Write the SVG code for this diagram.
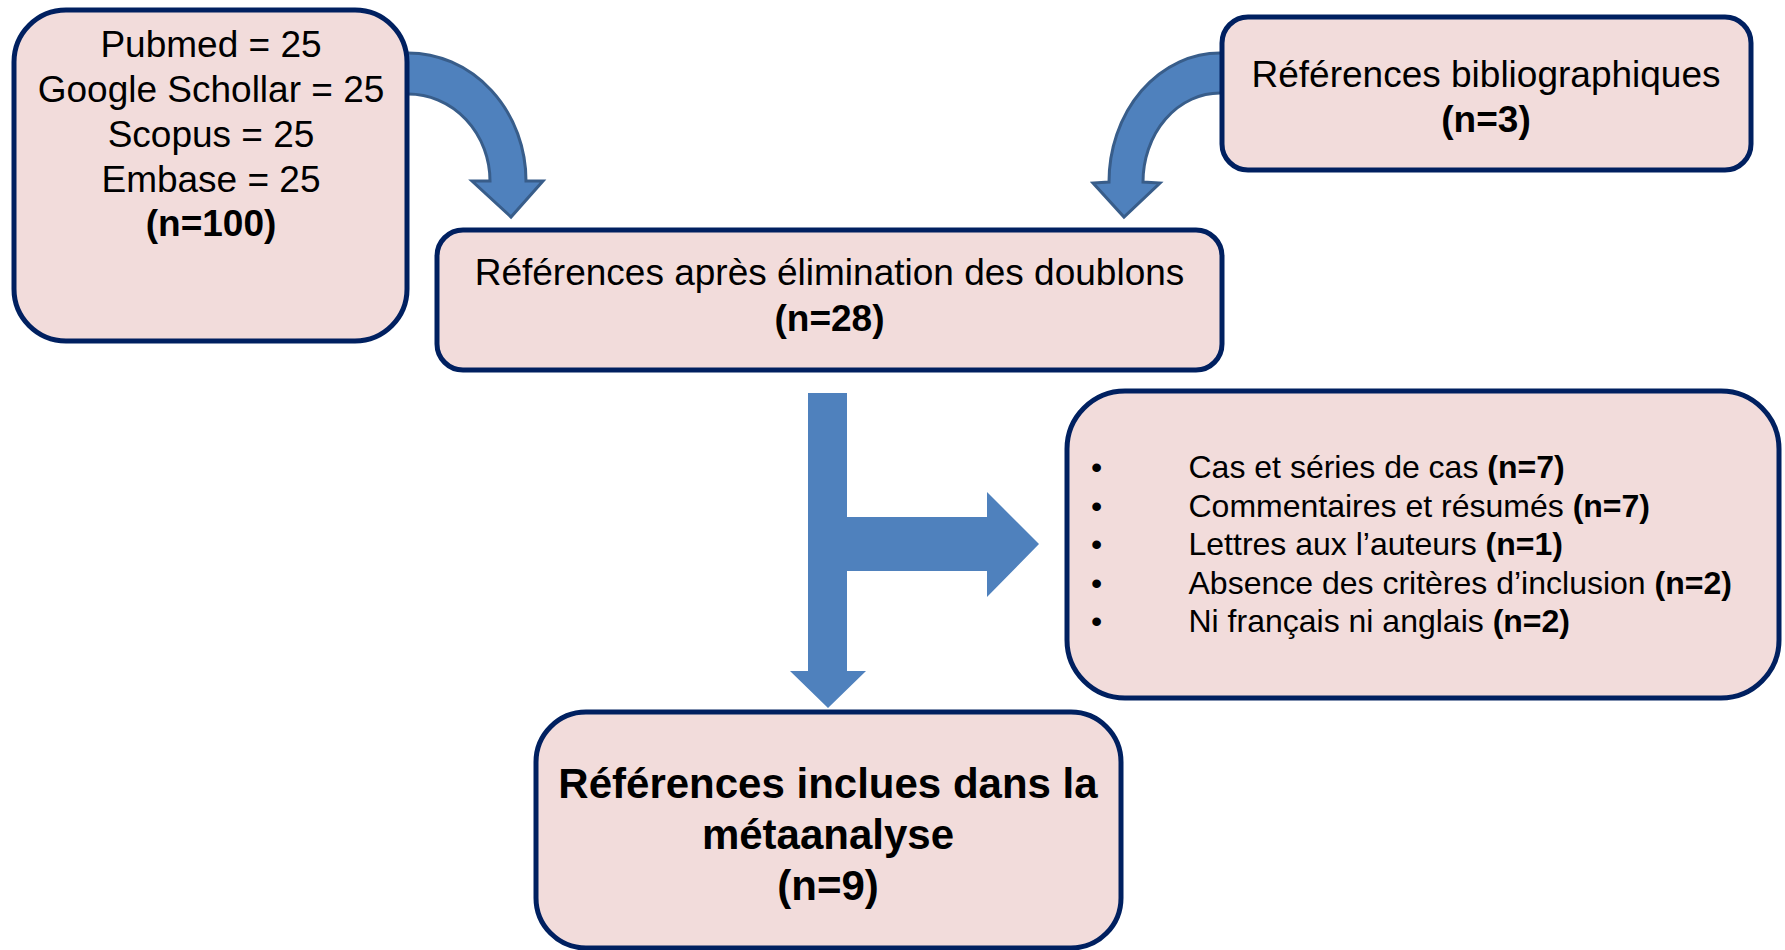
<svg xmlns="http://www.w3.org/2000/svg" width="1785" height="950" viewBox="0 0 1785 950">
<style>
.box{fill:#f2dcdb;stroke:#002060;stroke-width:5}
.t{font-family:"Liberation Sans",Arial,sans-serif;fill:#000}
.c{text-anchor:middle}
.b{font-weight:bold}
.curved{fill:#4f81bd;stroke:#385d8a;stroke-width:3;stroke-linejoin:miter}
.block{fill:#4f81bd}
</style>
<rect width="1785" height="950" fill="#ffffff"/>
<g id="connectors">
<path class="curved" d="M 404,53 L 408,53 A 118,128 0 0 1 526,181 L 543,181 L 511,217 L 472,181 L 490,181 A 82,87 0 0 0 408,94 L 404,94 Z"/>
<path class="curved" d="M 1226,53 L 1220,53 A 111,129 0 0 0 1109,182 L 1093,183 L 1124,217 L 1160,183 L 1143,182 A 77,89 0 0 1 1220,93 L 1226,93 Z"/>
<path class="block" d="M 808,393 L 847,393 L 847,517 L 987,517 L 987,492 L 1039,544 L 987,597 L 987,571 L 847,571 L 847,671 L 866,671 L 828,708 L 790,671 L 808,671 Z"/>
</g>
<g id="node-sources">
<rect class="box" x="14" y="10" width="393" height="331" rx="52" ry="52"/>
<text class="t c" font-size="37" x="211" y="57">Pubmed = 25</text>
<text class="t c" font-size="37" x="211" y="102">Google Schollar = 25</text>
<text class="t c" font-size="37" x="211" y="147">Scopus = 25</text>
<text class="t c" font-size="37" x="211" y="192">Embase = 25</text>
<text class="t c b" font-size="37" x="211" y="236">(n=100)</text>
</g>
<g id="node-biblio">
<rect class="box" x="1222" y="17" width="529" height="153" rx="26" ry="26"/>
<text class="t c" font-size="37" x="1486" y="87">Références bibliographiques</text>
<text class="t c b" font-size="37" x="1486" y="132">(n=3)</text>
</g>
<g id="node-doublons">
<rect class="box" x="437" y="230" width="785" height="140" rx="26" ry="26"/>
<text class="t c" font-size="37" x="829.5" y="285">Références après élimination des doublons</text>
<text class="t c b" font-size="37" x="829.5" y="331">(n=28)</text>
</g>
<g id="node-exclusions">
<rect class="box" x="1067" y="391" width="712" height="307" rx="58" ry="58"/>
<text class="t" font-size="32" x="1091" y="478">•</text>
<text class="t" font-size="32" x="1091" y="516.5">•</text>
<text class="t" font-size="32" x="1091" y="555">•</text>
<text class="t" font-size="32" x="1091" y="593.5">•</text>
<text class="t" font-size="32" x="1091" y="632">•</text>
<text class="t" font-size="32" x="1188.5" y="478">Cas et séries de cas <tspan class="b">(n=7)</tspan></text>
<text class="t" font-size="32" x="1188.5" y="516.5">Commentaires et résumés <tspan class="b">(n=7)</tspan></text>
<text class="t" font-size="32" x="1188.5" y="555">Lettres aux l’auteurs <tspan class="b">(n=1)</tspan></text>
<text class="t" font-size="32" x="1188.5" y="593.5">Absence des critères d’inclusion <tspan class="b">(n=2)</tspan></text>
<text class="t" font-size="32" x="1188.5" y="632">Ni français ni anglais <tspan class="b">(n=2)</tspan></text>
</g>
<g id="node-inclues">
<rect class="box" x="536" y="712" width="585" height="236" rx="50" ry="50"/>
<text class="t c b" font-size="42" x="828" y="798">Références inclues dans la</text>
<text class="t c b" font-size="42" x="828" y="849">métaanalyse</text>
<text class="t c b" font-size="42" x="828" y="900">(n=9)</text>
</g>
</svg>
